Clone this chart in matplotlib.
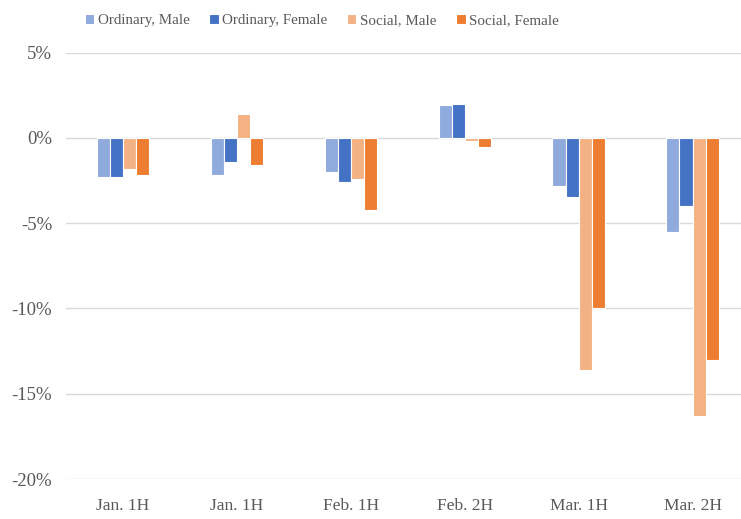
import matplotlib
matplotlib.use("Agg")
import matplotlib.pyplot as plt
import numpy as np

categories = ["Jan. 1H", "Jan. 1H", "Feb. 1H", "Feb. 2H", "Mar. 1H", "Mar. 2H"]
series_names = ["Ordinary, Male", "Ordinary, Female", "Social, Male", "Social, Female"]
ordinary_male = [-2.3, -2.2, -2.0, 1.95, -2.8, -5.5]
ordinary_female = [-2.3, -1.4, -2.6, 2.0, -3.45, -4.0]
social_male = [-1.8, 1.4, -2.4, -0.2, -13.6, -16.3]
social_female = [-2.2, -1.6, -4.2, -0.55, -10.0, -13.0]
colors = ["#8FAADC", "#4472C4", "#F4B183", "#ED7D31"]
yticks = [5, 0, -5, -10, -15, -20]

plt.rcParams['font.family'] = ['Liberation Serif', 'DejaVu Serif']

fig = plt.figure(figsize=(7.41, 5.19), dpi=100)
ax = fig.add_axes([66 / 741, 1 - 479 / 519, 683.5 / 741, (479 - 52.7) / 519])

x = np.arange(len(categories))
w = 0.115
data = [ordinary_male, ordinary_female, social_male, social_female]
for i, (vals, name, c) in enumerate(zip(data, series_names, colors)):
    ax.bar(x + (i - 1.5) * w, vals, width=w, color=c, edgecolor="white",
           linewidth=0.8, label=name, zorder=3)

ax.set_xlim(-0.5, len(categories) - 0.5)
ax.set_ylim(-20, 5)
ax.set_yticks(yticks)
ax.set_yticklabels([f"{t}%" for t in yticks])
ax.set_xticks(x)
ax.set_xticklabels(categories)
ax.grid(axis="y", color="#D9D9D9", linewidth=1.0, zorder=0)
ax.set_axisbelow(True)
for s in ax.spines.values():
    s.set_visible(False)
ax.tick_params(axis="x", length=0, labelsize=12.5, colors="#595959", pad=14)
ax.tick_params(axis="y", length=0, labelsize=13.5, colors="#595959", pad=10)

fig.legend(loc="upper left", bbox_to_anchor=(71 / 741, 0.999), ncol=4, frameon=False,
           fontsize=10.8, handlelength=0.65, handleheight=0.65, handletextpad=0.22,
           columnspacing=1.3, labelcolor="#595959")

fig.savefig("out.png", dpi=100)
